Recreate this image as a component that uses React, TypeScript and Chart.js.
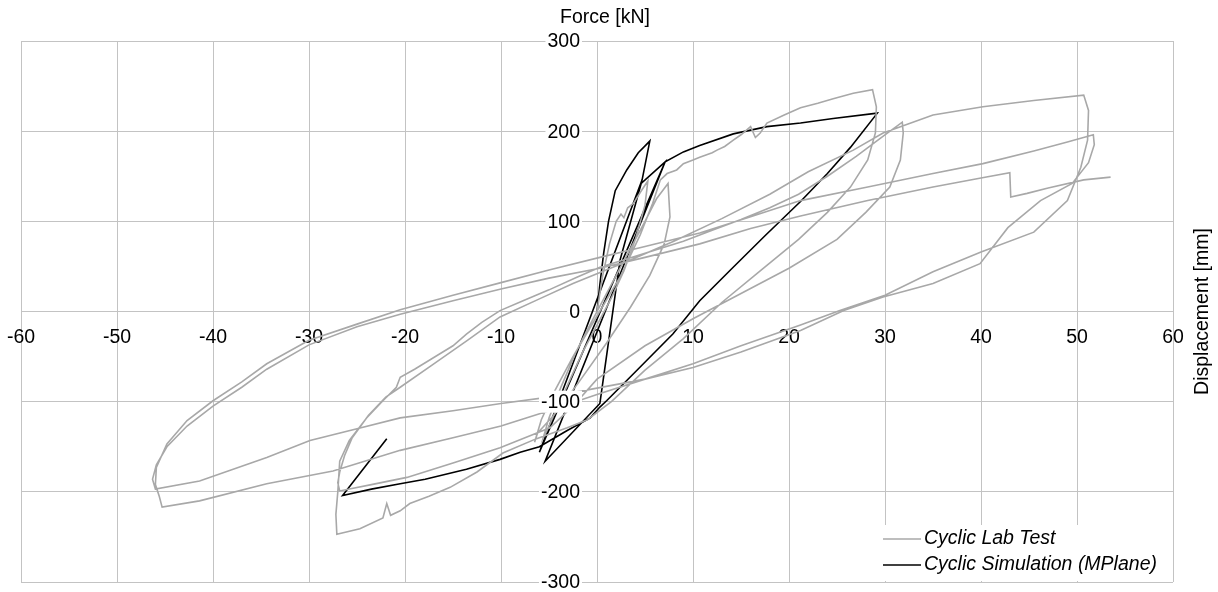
import React, { useEffect, useRef } from 'react';
import { Chart, registerables } from 'chart.js';

Chart.register(...registerables);

// ---------- axis setup ----------
const xRange = [-60, 60];
const xStep = 10;
const yRange = [-300, 300];
const yStep = 100;
const xTitle = 'Displacement [mm]';
const yTitle = 'Force [kN]';
const seriesNames = ['Cyclic Lab Test', 'Cyclic Simulation (MPlane)'];

// ---------- Cyclic Lab Test (displacement mm, force kN) ----------
const labFirstCycles: number[][] = [
  [0, 0], [0.6, 40], [1.3, 75], [2, 100], [2.5, 108], [2.8, 104], [3.2, 115], [3.8, 120], [4.5, 132], [5.3, 145],
  [5, 118], [4, 80], [2.8, 45], [1.5, 15], [0, -15], [-1.5, -45], [-3, -80], [-4.3, -110], [-5.2, -132], [-5.6, -140],
  [-5, -118], [-3.8, -85], [-2.2, -45], [-0.5, -10], [1.5, 30], [3.5, 70], [5, 100], [6.2, 125], [7.4, 142],
  [7.6, 105], [7, 75], [5.5, 40], [3.5, 5], [1, -35], [-2, -80], [-4.5, -115], [-6.2, -135], [-6.5, -145],
];
const labEnvelope: number[][] = [
  [-5.8, -120], [-4.5, -90], [-2.5, -50], [0, -5], [2.5, 40], [4.5, 85], [5.8, 120], [6.6, 146], [7.3, 153],
  [8.3, 157], [9, 164], [10, 168], [10.7, 171], [12, 176], [12.5, 179], [13.3, 183], [14.2, 190], [15, 196],
  [16, 205], [16.5, 193], [17, 198], [17.7, 209], [19.5, 218], [21.2, 226], [23, 231], [24.6, 236], [26.7, 242], [28.7, 246],
];
const labUnload30a: number[][] = [
  [29.1, 227], [29, 198], [28.2, 168], [26.4, 138], [24, 110], [21, 80], [17, 45], [13, 10], [9, -30], [5, -65],
  [1.5, -100], [-1, -120], [-3.1, -129], [-6.3, -141], [-9.8, -157], [-12.5, -178], [-15.3, -195], [-17.5, -205],
  [-19.5, -213], [-20.5, -221], [-21.5, -226], [-21.9, -213], [-22.3, -229], [-24.7, -241], [-27.1, -247],
];
const labReload30a: number[][] = [
  [-27.2, -225], [-27, -200], [-26.8, -166], [-25.8, -143], [-24, -118], [-22.3, -99], [-20.9, -84], [-20.5, -73],
  [-19, -64], [-17, -51], [-15, -38], [-13.6, -25], [-12, -12], [-10.1, 1], [-7.7, 12], [-5, 24], [-2.1, 38],
  [0.3, 49], [3, 58], [6, 68], [9, 78], [12, 90], [15, 102], [18, 115], [21, 130], [24, 150], [27, 172], [29.5, 192], [31.8, 210],
];
const labUnload30b: number[][] = [
  [31.9, 198], [31.6, 168], [30.5, 138], [28, 110], [25, 80], [20, 48], [15, 20], [10, -8], [5, -38], [0, -75],
  [-2.5, -105], [-4.9, -129], [-7.5, -140], [-10.1, -151], [-15, -168], [-19.8, -184], [-23.5, -192], [-26.8, -199],
];
const labReload30b: number[][] = [
  [-27, -190], [-26.8, -178], [-26.3, -160], [-25.5, -140], [-23.8, -115], [-22, -95], [-20.5, -84], [-17, -58],
  [-13.5, -32], [-10.1, -6], [-6, 14], [-2.5, 31], [3, 55], [8, 78], [13, 103], [18, 130], [22, 155], [26.7, 179],
  [29.8, 198], [35, 218], [40.2, 227], [45.5, 234], [50.7, 240],
];
const labUnload50a: number[][] = [
  [51.2, 223], [51.1, 190], [50.4, 160], [49, 123], [45.5, 88], [40, 66], [35, 44], [30, 18], [25.3, 1], [21.2, -15],
  [15, -38], [10, -58], [5, -75], [0, -92], [-5, -110], [-10, -127], [-15, -140], [-20.5, -154], [-27.5, -177],
  [-34.4, -191], [-41.4, -210], [-45.3, -217],
];
const labReload50a: number[][] = [
  [-45.6, -205], [-46, -192], [-45.9, -173], [-44.8, -147], [-42.7, -121], [-40, -99], [-37, -78], [-34.4, -58],
  [-30, -32], [-25, -14], [-20.5, 2], [-15, 18], [-10, 32], [-5, 46], [0.3, 60], [5, 72], [10.7, 87], [16, 105],
  [21.2, 123], [28.2, 138], [35, 153], [40.2, 164], [45.5, 178], [49, 188], [51.7, 196],
];
const labUnload50b: number[][] = [
  [51.8, 185], [51.2, 165], [49.5, 142], [46.2, 123], [42.8, 93], [39.9, 53], [35, 31], [29.8, 16], [25.7, 1],
  [21.2, -21], [15, -45], [10, -62], [5, -75], [0, -85], [-5, -95], [-10, -102], [-15, -110], [-20.5, -118],
  [-25, -130], [-29.9, -143], [-34.4, -162], [-41.4, -188], [-46, -197],
];
const labReload50b: number[][] = [
  [-46.3, -186], [-45.9, -170], [-44.8, -150], [-42.7, -127], [-40, -105], [-37, -84], [-34.4, -64], [-30, -37],
  [-25, -17], [-20.5, -3], [-15, 12], [-10, 25], [-5, 37], [0.3, 48], [5, 60], [10.7, 75], [16, 92], [21.2, 106],
  [28.2, 123], [35, 138], [40, 148], [43, 154], [43.1, 127], [44.8, 131], [47, 137], [50.7, 146], [53.5, 149],
];

// ---------- Cyclic Simulation (MPlane) ----------
const simLoading: number[][] = [
  [0, 0], [0.3, 30], [0.7, 65], [1.2, 100], [1.9, 134], [3.1, 157], [4.3, 176], [5.5, 189],
];
const simSmallCycles: number[][] = [
  [4.7, 146], [-6, -156], [7.1, 166], [4.6, 142], [2.4, 57], [0.3, -102], [-5.4, -166], [7.1, 166],
];
const simEnvelope: number[][] = [
  [9, 177], [10.7, 184], [14.2, 197], [17.7, 205], [21.2, 209], [24.6, 214], [29.2, 220],
];
const simUnload: number[][] = [
  [26.4, 182], [24, 153], [21.2, 122], [17.5, 84], [13.9, 46], [10.7, 12], [7.9, -25], [3.8, -69], [1, -99],
  [0.3, -106], [-0.7, -118], [-3.1, -132], [-6, -150], [-8, -156], [-10.1, -164], [-13.6, -175], [-17.9, -186],
  [-20.5, -191], [-23.5, -197], [-26.5, -204],
];
const simReload: number[][] = [[-21.9, -141]];

const labSeries = [
  labFirstCycles, labEnvelope, labUnload30a, labReload30a, labUnload30b, labReload30b,
  labUnload50a, labReload50a, labUnload50b, labReload50b,
];
const simSeries = [simLoading, simSmallCycles, simEnvelope, simUnload, simReload];

const LAB_COLOR = '#a8a8a8';
const SIM_COLOR = '#000000';
const GRID_COLOR = '#c3c3c3';
const FONT_FAMILY = '"Liberation Sans", Arial, Helvetica, sans-serif';
const FONT_SIZE = 19.5;

const toPoints = (parts: number[][][]) =>
  parts.flat().map(([x, y]) => ({ x, y }));

// y tick labels (from the y scale's own ticks), drawn left of the vertical axis
// on a white backdrop, above the data lines
const yLabelPlugin = {
  id: 'yLabels',
  afterDatasetsDraw(chart: any) {
    const { ctx, scales } = chart;
    const ys = scales.y;
    const xRight = scales.x.getPixelForValue(0) - 17;
    ctx.save();
    ctx.font = `${FONT_SIZE}px ${FONT_FAMILY}`;
    ctx.textAlign = 'right';
    ctx.textBaseline = 'middle';
    ys.ticks.forEach((t: any) => {
      const py = ys.getPixelForValue(t.value);
      const label = String(t.label);
      const w = ctx.measureText(label).width;
      ctx.fillStyle = '#ffffff';
      ctx.fillRect(xRight - w - 2, py - 11, w + 4, 22);
      ctx.fillStyle = '#000000';
      ctx.fillText(label, xRight, py + 1);
    });
    ctx.restore();
  },
};

const overlayPlugin = {
  id: 'overlayText',
  afterDraw(chart: any) {
    const { ctx, scales } = chart;
    const xs = scales.x;
    const ys = scales.y;
    ctx.save();
    ctx.fillStyle = '#000';
    ctx.font = `${FONT_SIZE}px ${FONT_FAMILY}`;
    ctx.textAlign = 'center';
    ctx.textBaseline = 'middle';
    // y-axis title above the top of the vertical axis
    ctx.fillText(yTitle, xs.getPixelForValue(0) + 8, 18);
    // x-axis title rotated at the right end of the horizontal axis
    ctx.save();
    ctx.translate(1203, ys.getPixelForValue(0));
    ctx.rotate(-Math.PI / 2);
    ctx.fillText(xTitle, 0, 0);
    ctx.restore();

    // legend inside the plot, bottom right
    const area = chart.chartArea;
    const boxLeft = 879;
    const boxTop = 525;
    ctx.fillStyle = '#ffffff';
    ctx.fillRect(boxLeft, boxTop, area.right - 1 - boxLeft, area.bottom - 1 - boxTop);
    const rows = [
      { label: seriesNames[0], color: LAB_COLOR, y: 539 },
      { label: seriesNames[1], color: SIM_COLOR, y: 565 },
    ];
    ctx.font = `italic ${FONT_SIZE}px ${FONT_FAMILY}`;
    ctx.textAlign = 'left';
    rows.forEach((r) => {
      ctx.strokeStyle = r.color;
      ctx.lineWidth = 1.6;
      ctx.beginPath();
      ctx.moveTo(883, r.y);
      ctx.lineTo(921, r.y);
      ctx.stroke();
      ctx.fillStyle = '#000';
      ctx.fillText(r.label, 924, r.y);
    });
    ctx.restore();
  },
};

export default function App() {
  const canvasRef = useRef<HTMLCanvasElement | null>(null);

  useEffect(() => {
    const canvas = canvasRef.current;
    if (!canvas) return;
    const chart = new Chart(canvas, {
      type: 'scatter',
      data: {
        datasets: [
          {
            label: seriesNames[0],
            data: toPoints(labSeries),
            showLine: true,
            borderColor: LAB_COLOR,
            backgroundColor: LAB_COLOR,
            borderWidth: 1.6,
            pointRadius: 0,
            pointHoverRadius: 0,
            tension: 0,
            fill: false,
          },
          {
            label: seriesNames[1],
            data: toPoints(simSeries),
            showLine: true,
            borderColor: SIM_COLOR,
            backgroundColor: SIM_COLOR,
            borderWidth: 1.6,
            pointRadius: 0,
            pointHoverRadius: 0,
            tension: 0,
            fill: false,
          },
        ],
      },
      options: {
        animation: false,
        responsive: true,
        maintainAspectRatio: false,
        layout: { padding: { left: 21, right: 45, top: 41, bottom: 10 } },
        plugins: {
          legend: { display: false },
          tooltip: { enabled: false },
          title: { display: false },
        },
        scales: {
          x: {
            type: 'linear',
            min: xRange[0],
            max: xRange[1],
            position: { y: 0 } as any,
            ticks: {
              stepSize: xStep,
              padding: 0,
              color: '#000',
              font: { family: FONT_FAMILY, size: FONT_SIZE },
              maxRotation: 0,
              autoSkip: false,
            },
            grid: {
              color: GRID_COLOR,
              lineWidth: 1,
              drawTicks: true,
              tickLength: 14,
              tickColor: 'rgba(0,0,0,0)',
            },
            border: { color: GRID_COLOR, width: 1 },
          },
          y: {
            type: 'linear',
            min: yRange[0],
            max: yRange[1],
            position: { x: 0 } as any,
            ticks: {
              stepSize: yStep,
              display: false,
              autoSkip: false,
            },
            grid: {
              color: GRID_COLOR,
              lineWidth: 1,
              drawTicks: false,
            },
            border: { color: GRID_COLOR, width: 1 },
          },
        },
      },
      plugins: [yLabelPlugin, overlayPlugin],
    });
    return () => chart.destroy();
  }, []);

  return (
    <div
      style={{
        position: 'fixed',
        left: 0,
        top: 0,
        width: 1218,
        height: 592,
        background: '#ffffff',
      }}
    >
      <canvas ref={canvasRef} />
    </div>
  );
}
